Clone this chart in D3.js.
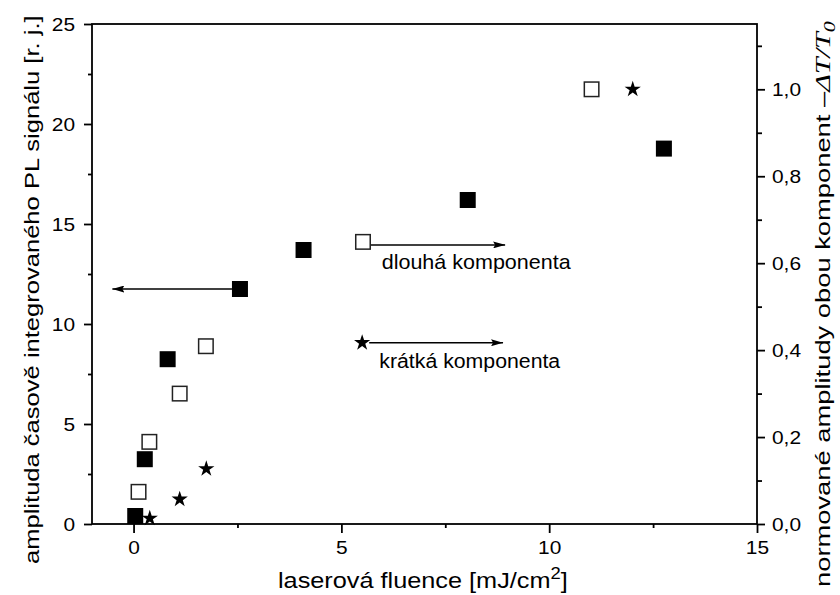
<!DOCTYPE html>
<html>
<head>
<meta charset="utf-8">
<script src="https://cdn.jsdelivr.net/npm/d3@7/dist/d3.min.js"></script>
<style>
  html, body { margin: 0; padding: 0; background: #fff; }
  svg { display: block; font-family: "Liberation Sans", Arial, sans-serif; }
</style>
</head>
<body>
<svg id="chart" width="840" height="595"></svg>
<script>
// Time-integrated PL signal (left axis, filled squares)
const fluencePL = [0.04, 0.27, 0.82, 2.56, 4.09, 8.04, 12.76];
const signalPL  = [0.4, 3.24, 8.24, 11.75, 13.7, 16.2, 18.77];

// Normalised amplitude of the long component (right axis, open squares)
const fluenceLong = [0.12, 0.38, 1.11, 1.74, 5.52, 11.02];
const ampLong     = [0.074, 0.189, 0.30, 0.409, 0.649, 1.0];

// Normalised amplitude of the short component (right axis, stars)
const fluenceShort = [0.39, 1.11, 1.75, 5.5, 12.01];
const ampShort     = [0.013, 0.057, 0.127, 0.417, 1.0];

// Axis ticks
const xTicks      = [0, 5, 10, 15];
const xMinor      = [2.5, 7.5, 12.5];
const yLeftTicks  = [0, 5, 10, 15, 20, 25];
const yLeftMinor  = [2.5, 7.5, 12.5, 17.5, 22.5];
const yRightTicks = [0, 0.2, 0.4, 0.6, 0.8, 1.0];
const yRightMinor = [0.1, 0.3, 0.5, 0.7, 0.9, 1.1];

// Annotation labels
const labelLong  = "dlouhá komponenta";
const labelShort = "krátká komponenta";
const xTitle     = "laserová fluence [mJ/cm";
const yLeftTitle = "amplituda časově integrovaného PL signálu [r. j.]";
const yRightTitle = "normované amplitudy obou komponent ";

const svg = d3.select("#chart");
const L = 92, R = 757, T = 24, B = 524;

const x  = d3.scaleLinear().domain([-1, 15]).range([L, R]);
const yL = d3.scaleLinear().domain([0, 25]).range([B, T]);
const yR = d3.scaleLinear().domain([0, 500 / 434.7]).range([B, T]);

const cz = d3.formatLocale({decimal: ",", thousands: " ", grouping: [3], currency: ["", ""]});
const fmt1 = cz.format(".1f");

const TICK_FS = 19, KX = 1.1;

function stretchTicks(g, k) {
  g.selectAll(".tick text").each(function () {
    const t = d3.select(this);
    const x0 = +t.attr("x") || 0;
    t.attr("x", x0 / k).attr("transform", `scale(${k},1)`);
  });
}
function styleAxis(g) {
  g.select(".domain").remove();
  g.selectAll(".tick line").attr("stroke", "#000").attr("stroke-width", 1.8);
  g.selectAll(".tick text").attr("fill", "#000").attr("font-size", TICK_FS)
    .attr("font-family", "Liberation Sans, Arial, sans-serif");
}

// Major and minor ticks
const gLeft = svg.append("g").attr("transform", `translate(${L},0)`)
  .call(d3.axisLeft(yL).tickValues(yLeftTicks).tickSize(8).tickSizeOuter(0).tickPadding(9).tickFormat(d3.format("d")));
styleAxis(gLeft); stretchTicks(gLeft, KX);
const gLeftMinor = svg.append("g").attr("transform", `translate(${L},0)`)
  .call(d3.axisLeft(yL).tickValues(yLeftMinor).tickSize(4).tickSizeOuter(0).tickFormat(""));
styleAxis(gLeftMinor);

const gRight = svg.append("g").attr("transform", `translate(${R},0)`)
  .call(d3.axisRight(yR).tickValues(yRightTicks).tickSize(8).tickSizeOuter(0).tickPadding(7).tickFormat(fmt1));
styleAxis(gRight); stretchTicks(gRight, KX);
const gRightMinor = svg.append("g").attr("transform", `translate(${R},0)`)
  .call(d3.axisRight(yR).tickValues(yRightMinor).tickSize(5).tickSizeOuter(0).tickFormat(""));
styleAxis(gRightMinor);

const gBottom = svg.append("g").attr("transform", `translate(0,${B})`)
  .call(d3.axisBottom(x).tickValues(xTicks).tickSize(9).tickSizeOuter(0).tickPadding(8).tickFormat(d3.format("d")));
styleAxis(gBottom); stretchTicks(gBottom, KX);
const gBottomMinor = svg.append("g").attr("transform", `translate(0,${B})`)
  .call(d3.axisBottom(x).tickValues(xMinor).tickSize(4).tickSizeOuter(0).tickFormat(""));
styleAxis(gBottomMinor);

// Frame
svg.append("rect").attr("x", L).attr("y", T).attr("width", R - L).attr("height", B - T)
  .attr("fill", "none").attr("stroke", "#000").attr("stroke-width", 1.8);

// Arrow marker
svg.append("defs").append("marker")
  .attr("id", "head").attr("viewBox", "0 0 12 7").attr("refX", 12).attr("refY", 3.5)
  .attr("markerWidth", 12).attr("markerHeight", 7).attr("markerUnits", "userSpaceOnUse")
  .attr("orient", "auto")
  .append("path").attr("d", "M0,0 L12,3.5 L0,7 L2,3.5 Z").attr("fill", "#000");

function arrow(x1, y1, x2, y2) {
  svg.append("line").attr("x1", x1).attr("y1", y1).attr("x2", x2).attr("y2", y2)
    .attr("stroke", "#000").attr("stroke-width", 1.5).attr("marker-end", "url(#head)");
}

// Arrows pointing from the series to their axis
const SQ = 16;
arrow(x(fluencePL[3]) - SQ / 2, yL(signalPL[3]), x(-0.51), yL(signalPL[3]));
arrow(x(fluenceLong[4]) + SQ / 2, yR(ampLong[4]) + 3, x(8.94), yR(ampLong[4]) + 3);
arrow(x(fluenceShort[3]) + 7, yR(ampShort[3]), x(8.89), yR(ampShort[3]));

// Markers
svg.append("g").selectAll("rect").data(fluencePL.map((f, i) => [f, signalPL[i]])).join("rect")
  .attr("x", d => x(d[0]) - SQ / 2).attr("y", d => yL(d[1]) - SQ / 2)
  .attr("width", SQ).attr("height", SQ).attr("fill", "#000");

svg.append("g").selectAll("rect").data(fluenceLong.map((f, i) => [f, ampLong[i]])).join("rect")
  .attr("x", d => x(d[0]) - (SQ - 1.5) / 2).attr("y", d => yR(d[1]) - (SQ - 1.5) / 2)
  .attr("width", SQ - 1.5).attr("height", SQ - 1.5)
  .attr("fill", "#fff").attr("stroke", "#222").attr("stroke-width", 1.5);

const star = d3.symbol(d3.symbolStar, 82);
svg.append("g").selectAll("path").data(fluenceShort.map((f, i) => [f, ampShort[i]])).join("path")
  .attr("d", star).attr("transform", d => `translate(${x(d[0])},${yR(d[1])})`).attr("fill", "#000");

// Fit a text element to a target length along its own direction
function fitText(t, len, x0, y0, rot) {
  const w = t.node().getComputedTextLength();
  const k = len / w;
  t.attr("transform", `translate(${x0},${y0})${rot ? " rotate(-90)" : ""} scale(${k},1)`);
}

// Annotation labels
const tLong = svg.append("text").attr("font-size", 20).attr("fill", "#000").text(labelLong);
fitText(tLong, 189, 381.7, 269.3, false);
const tShort = svg.append("text").attr("font-size", 20).attr("fill", "#000").text(labelShort);
fitText(tShort, 181, 379.3, 368, false);

// X axis title
const tx = svg.append("text").attr("font-size", 22).attr("fill", "#000");
tx.append("tspan").text(xTitle);
tx.append("tspan").attr("font-size", 16).attr("dy", -9).text("2");
tx.append("tspan").attr("dy", 9).text("]");
fitText(tx, 290, 278, 588, false);

// Left axis title
const tyl = svg.append("text").attr("font-size", 21).attr("fill", "#000").text(yLeftTitle);
fitText(tyl, 549, 39, 564, true);

// Right axis title
const tyr = svg.append("text").attr("font-size", 20).attr("fill", "#000");
tyr.append("tspan").text(yRightTitle + "\u2013");
tyr.append("tspan").attr("font-family", "Liberation Serif, Times New Roman, serif")
  .attr("font-style", "italic").attr("font-size", 22).text("\u0394T/T");
tyr.append("tspan").attr("font-family", "Liberation Serif, Times New Roman, serif")
  .attr("font-style", "italic").attr("font-size", 16).attr("dy", 5).text("0");
fitText(tyr, 566, 830, 587, true);
</script>
</body>
</html>
